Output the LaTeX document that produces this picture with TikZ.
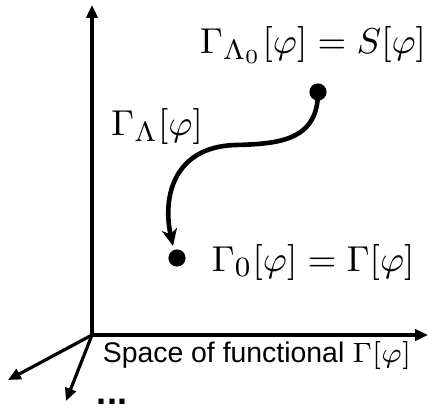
\documentclass[tikz,border=0pt]{standalone}
\usepackage{fontspec}
\setsansfont{Liberation Sans}
\usetikzlibrary{arrows.meta}
\begin{document}
\begin{tikzpicture}[x=0.25pt,y=-0.25pt,
  axis/.style={line width=0.8pt,-{Triangle[length=3.2pt,width=2.8pt]}},
  flow/.style={line width=1.15pt,-{Stealth[length=4.2pt,width=3.8pt,inset=1.2pt]}},
  dotnode/.style={circle,fill=black,inner sep=0pt,minimum size=4.3pt},
  lbl/.style={inner sep=0pt,font=\fontsize{9.3}{11}\selectfont}]
\useasboundingbox (0,0) rectangle (429,409);
\coordinate (O) at (92,335);
\coordinate (Y) at (92,5);
\coordinate (X) at (428,335);
\coordinate (D1) at (8,380);
\coordinate (D2) at (66,401);
\draw[axis] (O) -- (Y);
\draw[axis] (O) -- (X);
\draw[axis] (O) -- (D1);
\draw[axis] (O) -- (D2);
\node[dotnode] (top) at (318,92) {};
\node[dotnode] (bot) at (177,258) {};
\coordinate (tip) at (173,246);
\draw[flow] (top.center) .. controls (318,140) and (280,144) .. (235,145)
  .. controls (175,147) and (162,195) .. (tip);
\node[lbl] (l1) at (313,45) {$\Gamma_{\Lambda_0}[\varphi]=S[\varphi]$};
\node[lbl] (l2) at (157,126) {$\Gamma_{\Lambda}[\varphi]$};
\node[lbl] (l3) at (313,262) {$\Gamma_{0}[\varphi]=\Gamma[\varphi]$};
\node[inner sep=0pt,font=\sffamily\fontsize{7.1}{9}\selectfont] (l4) at (257,355) {Space of functional $\Gamma[\varphi]$};
\node[inner sep=0pt,font=\sffamily\bfseries\fontsize{9}{10}\selectfont] (l5) at (112,402) {...};
\end{tikzpicture}
\end{document}
